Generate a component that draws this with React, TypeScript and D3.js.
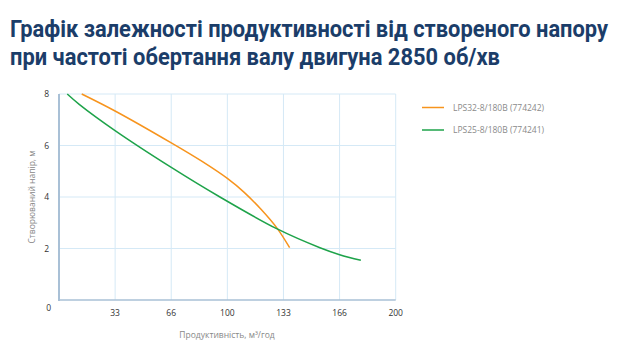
import React from "react";
import * as d3 from "d3";

const titleLines = [
  "Графік залежності продуктивності від створеного напору",
  "при частоті обертання валу двигуна 2850 об/хв",
];
const xTicks = [200 / 6, 400 / 6, 100, 800 / 6, 1000 / 6, 200];
const yTicks = [2, 4, 6, 8];
const seriesNames = ["LPS32-8/180B (774242)", "LPS25-8/180B (774241)"];
const seriesColors = ["#f7941d", "#1ea34a"];
const orangeFlow = [13.5, 33.3, 66.7, 85, 100, 110, 120, 129.6, 137];
const orangeHead = [8, 7.34, 6.1, 5.38, 4.72, 4.18, 3.52, 2.78, 2.03];
const greenFlow = [4.9, 12, 33.3, 66.7, 95.6, 129.6, 155, 166.7, 179.3];
const greenHead = [8, 7.6, 6.58, 5.15, 4.0, 2.76, 2.03, 1.76, 1.54];

export default function App() {
  const W = 640, H = 357;
  const x = d3.scaleLinear().domain([0, 200]).range([59, 395.7]);
  const y = d3.scaleLinear().domain([0, 8]).range([300, 94]);
  const line = d3
    .line<[number, number]>()
    .x((d) => x(d[0]))
    .y((d) => y(d[1]))
    .curve(d3.curveCatmullRom.alpha(0.5));
  const series = [
    orangeFlow.map((f, i) => [f, orangeHead[i]] as [number, number]),
    greenFlow.map((f, i) => [f, greenHead[i]] as [number, number]),
  ];
  return (
    <svg width={W} height={H} style={{ position: "absolute", left: 0, top: 0, background: "#fff" }}>
      <rect width={W} height={H} fill="#fff" />
      {titleLines.map((t, i) => (
        <text
          key={i}
          x={10}
          y={37 + i * 28}
          fontFamily="Roboto"
          fontWeight={700}
          fontSize={23}
          fill="#1b3d69"
          textLength={i === 0 ? 598 : 490}
          lengthAdjust="spacingAndGlyphs"
        >
          {t}
        </text>
      ))}
      {xTicks.map((t, i) => (
        <line key={"gx" + i} x1={x(t)} x2={x(t)} y1={y(8)} y2={y(0)} stroke="#d5e9f6" strokeWidth={1} />
      ))}
      {yTicks.map((t, i) => (
        <line key={"gy" + i} x1={x(0)} x2={x(200)} y1={y(t)} y2={y(t)} stroke="#d5e9f6" strokeWidth={1} />
      ))}
      <line x1={x(0)} x2={x(0)} y1={y(8)} y2={y(0) + 1} stroke="#a9c0d6" strokeWidth={2} />
      <line x1={x(0)} x2={x(200)} y1={y(0)} y2={y(0)} stroke="#a9c0d6" strokeWidth={1.5} />
      {yTicks.map((t, i) => (
        <text key={"ty" + i} x={49} y={y(t) + 3} textAnchor="end" fontFamily="Open Sans" fontSize={8.5} fill="#333">
          {t}
        </text>
      ))}
      <text x={51} y={311} textAnchor="end" fontFamily="Open Sans" fontSize={8.5} fill="#333">0</text>
      {xTicks.map((t, i) => (
        <text key={"tx" + i} x={x(t)} y={316} textAnchor="middle" fontFamily="Open Sans" fontSize={8.5} fill="#333">
          {Math.floor(t)}
        </text>
      ))}
      <text x={227} y={338} textAnchor="middle" fontFamily="Open Sans" fontSize={8.5} fill="#888">
        Продуктивність, м³/год
      </text>
      <text
        transform={`translate(35,${(y(0) + y(8)) / 2}) rotate(-90)`}
        textAnchor="middle"
        fontFamily="Open Sans"
        fontSize={8.5}
        fill="#888"
      >
        Створюваний напір, м
      </text>
      {series.map((s, i) => (
        <path key={"s" + i} d={line(s) || ""} fill="none" stroke={seriesColors[i]} strokeWidth={1.5} />
      ))}
      {seriesNames.map((n, i) => (
        <g key={"l" + i} transform={`translate(0,${107.5 + i * 22.5})`}>
          <line x1={422} x2={444} y1={0} y2={0} stroke={seriesColors[i]} strokeWidth={1.5} />
          <text x={453} y={3} fontFamily="Open Sans" fontSize={8.5} fill="#8a8a8a">{n}</text>
        </g>
      ))}
    </svg>
  );
}
